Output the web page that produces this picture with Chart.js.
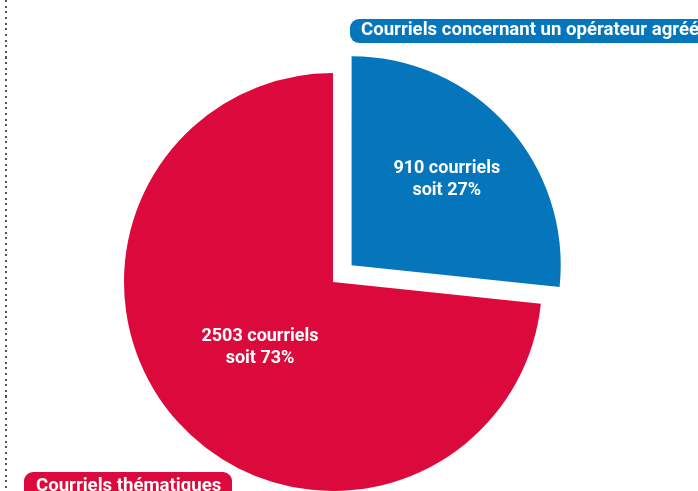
<!DOCTYPE html>
<html>
<head>
<meta charset="utf-8">
<script src="https://cdn.jsdelivr.net/npm/chart.js@4.4.1/dist/chart.umd.min.js"></script>
<style>
  html, body { margin: 0; padding: 0; background: #fff; }
  #wrap { position: relative; width: 698px; height: 491px; overflow: hidden; background: #fff; }
  #c { position: absolute; left: 0; top: 0; }
  .dots { position: absolute; left: 5px; top: 0; width: 2px; height: 491px;
    background-image: repeating-linear-gradient(to bottom, #555 0px, #555 2px, transparent 2px, transparent 5.65px); }
  .tag { position: absolute; color: #fff; font-family: Roboto, "Noto Sans", sans-serif; font-weight: bold;
    font-size: 18.6px; white-space: nowrap; box-sizing: border-box; border-radius: 9px; }
  #tagBlue { left: 350px; top: 19px; height: 24px; line-height: 20px; padding-left: 11px; width: 420px; }
  #tagRed { left: 24px; top: 472px; height: 40px; line-height: 20px; padding: 3px 11px 0 12px; }
</style>
</head>
<body>
<div id="wrap">
  <div class="dots"></div>
  <canvas id="c" width="698" height="491"></canvas>
  <div class="tag" id="tagBlue"></div>
  <div class="tag" id="tagRed"></div>
</div>
<script>
// ---- data ----
const categories = ["Courriels concernant un opérateur agréé", "Courriels thématiques"];
const values = [910, 2503];
const colors = ["#0576BC", "#DC0A3C"];
const unitLabel = "courriels";
const pctPrefix = "soit";

const total = values.reduce((a, b) => a + b, 0);

document.getElementById('tagBlue').textContent = categories[0];
document.getElementById('tagBlue').style.background = colors[0];
document.getElementById('tagRed').textContent = categories[1];
document.getElementById('tagRed').style.background = colors[1];

const sliceLabels = {
  id: 'sliceLabels',
  afterDatasetsDraw(chart, args, opts) {
    const meta = chart.getDatasetMeta(0);
    const ctx = chart.ctx;
    ctx.save();
    ctx.fillStyle = '#fff';
    ctx.font = 'bold 18px Roboto, "Noto Sans", sans-serif';
    ctx.textAlign = 'center';
    ctx.textBaseline = 'middle';
    meta.data.forEach((arc, i) => {
      const p = arc.getProps(['x', 'y', 'startAngle', 'endAngle', 'outerRadius'], true);
      const mid = (p.startAngle + p.endAngle) / 2;
      const off = (arc.options.offset || 0) / 4;
      const d = off + opts.fractions[i] * p.outerRadius;
      const cx = p.x + Math.cos(mid) * d;
      const cy = p.y + Math.sin(mid) * d;
      const pct = Math.round(values[i] / total * 100);
      ctx.fillText(values[i] + ' ' + unitLabel, cx, cy - 11);
      ctx.fillText(pctPrefix + ' ' + pct + '%', cx, cy + 11);
    });
    ctx.restore();
  }
};

new Chart(document.getElementById('c'), {
  type: 'pie',
  data: {
    labels: categories,
    datasets: [
      {
        data: values,
        backgroundColor: colors,
        borderWidth: 0,
        offset: [100, 0]
      }
    ]
  },
  plugins: [sliceLabels],
  options: {
    responsive: false,
    devicePixelRatio: 1,
    animation: false,
    events: [],
    radius: 209,
    rotation: 0,
    layout: { padding: { left: 0, right: 32, top: 73, bottom: 0 } },
    plugins: {
      legend: { display: false },
      tooltip: { enabled: false },
      sliceLabels: { fractions: [0.613, 0.47] }
    }
  }
});
</script>
</body>
</html>
